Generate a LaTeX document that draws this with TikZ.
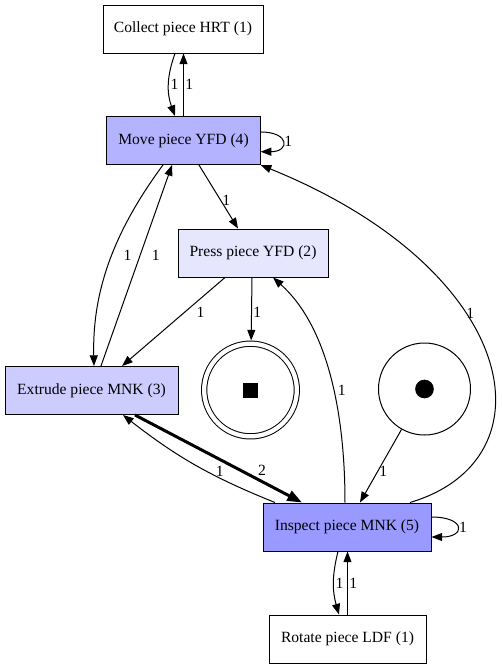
\documentclass[tikz,border=0pt]{standalone}
\usepackage{fontspec}
\setmainfont{Liberation Serif}
\usepackage{tikz}
\tikzset{every picture/.style={line width=0.75pt}}
\usetikzlibrary{arrows.meta}
\definecolor{myviolet2}{HTML}{E6E6FF}
\definecolor{myviolet3}{HTML}{CCCCFF}
\definecolor{myviolet4}{HTML}{B3B3FF}
\definecolor{myviolet5}{HTML}{9999FF}
\tikzset{
  >={Triangle[length=8pt,width=6pt]}, % graphviz-like filled heads
  trans/.style={draw,rectangle,minimum height=36pt,inner sep=0pt,font=\fontsize{11.7}{14}\selectfont},
  trans 1/.style={trans,fill=white}, % trans styles, numbered by count
  trans 2/.style={trans,fill=myviolet2},
  trans 3/.style={trans,fill=myviolet3},
  trans 4/.style={trans,fill=myviolet4},
  trans 5/.style={trans,fill=myviolet5},
  place/.style={draw,circle,minimum size=69pt,inner sep=0pt},
  arc/.style={->},
  arc heavy/.style={-{Triangle[length=11pt,width=8pt]},line width=2.25pt},
  weight/.style={font=\fontsize{11.7}{14}\selectfont,inner sep=1pt}
}

\begin{document}
\begin{tikzpicture}[x=0.75pt,y=-0.75pt]
\useasboundingbox (0,0) rectangle (503,669);

% -------- Transitions --------
\node[trans 1, minimum width=120pt] (collect) at (183,29) {Collect piece HRT (1)};
\node[trans 4, minimum width=115pt] (move) at (183.5,140.5) {Move piece YFD (4)};
\node[trans 2, minimum width=112.5pt] (press) at (253,253) {Press piece YFD (2)};
\node[trans 3, minimum width=129.75pt] (extrude) at (91.5,390.5) {Extrude piece MNK (3)};
\node[trans 5, minimum width=126pt] (inspect) at (347,527) {Inspect piece MNK (5)};
\node[trans 1, minimum width=117.75pt] (rotate) at (347.5,639) {Rotate piece LDF (1)};

% -------- Start and end --------
\node[place, minimum size=69.5pt, double, double distance=3.2pt, outer sep=2.4pt] (end) at (250.5,390) {\rule{11.25pt}{11.25pt}};
\node[place] (start) at (424.5,389) {};
\fill (start.center) circle[radius=7pt];

% Collect <-> Move
\draw[arc] ([xshift=-6pt]collect.south) to[bend right=20] node[weight, right] {1} ([xshift=-6.4pt]move.north);
\draw[arc] (move.north) -- node[weight, right] {1} (move.north |- collect.south);
\draw[arc] ([yshift=6.4pt]move.east) to[out=0,in=0,looseness=3.8] node[weight, right] {1} ([yshift=-8.4pt]move.east);

% Move -> Press, Move <-> Extrude
\draw[arc] ([xshift=11.6pt]move.south) -- node[weight, pos=0.55, right] {1} ([xshift=-11.25pt]press.north);
\draw[arc] ([xshift=-15.4pt]move.south) .. controls +(-48,65) and +(-2,-76) .. ([xshift=1.9pt]extrude.north) node[weight, pos=0.47, right=7.5pt] {1};
\draw[arc] ([xshift=7.1pt]extrude.north) -- node[weight, pos=0.55, right=7.5pt] {1} ([xshift=-8.6pt]move.south);

% Press -> Extrude, End
\draw[arc] ([xshift=-21pt]press.south) -- node[weight, pos=0.39, right=7.5pt] {1} ([xshift=22.9pt]extrude.north);
\draw[arc] ([xshift=-0.75pt]press.south) -- node[weight, pos=0.55, right] {1} (end);

% Inspect -> Press, Move
\draw[arc] ([xshift=-1.5pt]inspect.north) .. controls +(0,-83) and +(57,51) .. ([xshift=15pt]press.south) node[weight, pos=0.45, right=2pt] {1};
\draw[arc] ([xshift=47.25pt]inspect.north) .. controls +(145,-43) and +(260,105.5) .. (move.south east) node[weight, pos=0.61, right] {1};
\draw[arc] (start) -- node[weight, pos=0.58, right] {1} ([xshift=9.75pt]inspect.north);

% Extrude <-> Inspect
\draw[arc heavy] ([xshift=32.6pt]extrude.south) -- node[weight, pos=0.72, above right=0pt] {2} ([xshift=-33.75pt]inspect.north);
\draw[arc] ([xshift=-54pt]inspect.north) to[bend left=8] node[weight, pos=0.33, above] {1} ([xshift=23.6pt]extrude.south);
\draw[arc] ([yshift=7.5pt]inspect.east) to[out=0,in=0,looseness=4.4] node[weight, right] {1} ([yshift=-7.5pt]inspect.east);

% Inspect <-> Rotate
\draw[arc] ([xshift=-6.75pt]inspect.south) to[bend right=15] node[weight, right] {1} ([xshift=-6.4pt]rotate.north);
\draw[arc] (rotate.north) -- node[weight, right] {1} (rotate.north |- inspect.south);

\end{tikzpicture}
\end{document}
